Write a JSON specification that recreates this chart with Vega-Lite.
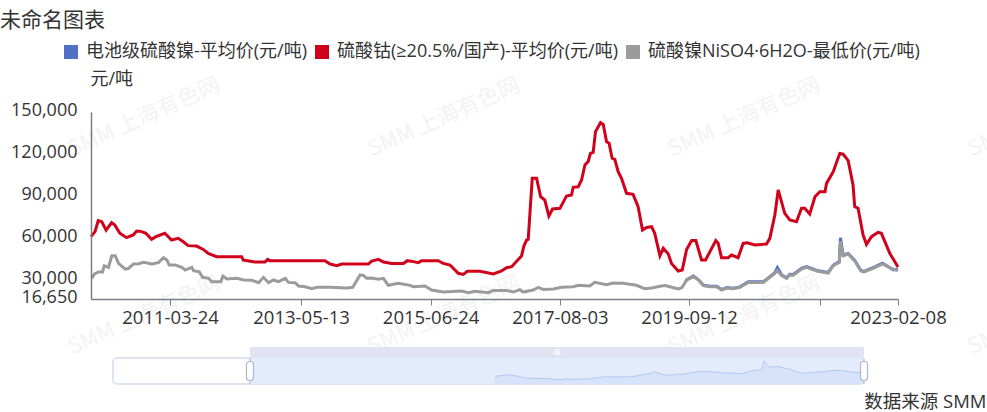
{
  "$schema": "https://vega.github.io/schema/vega-lite/v6.json",
  "width": 987,
  "height": 412,
  "autosize": {"type": "fit", "contains": "padding"},
  "padding": 0,
  "background": "white",
  "title": {"text": "未命名图表", "anchor": "start", "frame": "group", "offset": -31, "fontSize": 21, "fontWeight": "normal", "color": "#333", "font": "Open Sans, Noto Sans CJK SC"},
  "config": {"view": {"stroke": null}, "font": "Open Sans, Noto Sans CJK SC"},
  "datasets": {
    "cobalt": [
      {"date":"2009-12-08","value":61100},{"date":"2010-01-01","value":64700},{"date":"2010-01-20","value":72500},{"date":"2010-02-10","value":71800},{"date":"2010-03-08","value":65800},{"date":"2010-04-10","value":71100},{"date":"2010-04-29","value":69400},{"date":"2010-05-29","value":63500},{"date":"2010-07-08","value":60400},{"date":"2010-08-17","value":62300},{"date":"2010-09-06","value":65100},{"date":"2010-10-06","value":64700},{"date":"2010-10-31","value":63500},{"date":"2010-12-04","value":59200},{"date":"2010-12-30","value":61100},{"date":"2011-02-21","value":63500},{"date":"2011-04-02","value":58700},{"date":"2011-05-12","value":59900},{"date":"2011-06-11","value":57500},{"date":"2011-07-10","value":54700},{"date":"2011-08-29","value":54400},{"date":"2011-10-08","value":52000},{"date":"2011-11-07","value":49200},{"date":"2011-12-27","value":46800},{"date":"2012-05-24","value":46800},{"date":"2012-06-03","value":44400},{"date":"2012-08-11","value":43000},{"date":"2012-10-10","value":43000},{"date":"2012-10-26","value":44900},{"date":"2012-11-09","value":44000},{"date":"2013-10-02","value":44000},{"date":"2013-11-02","value":41600},{"date":"2013-12-12","value":40400},{"date":"2014-01-10","value":41600},{"date":"2014-06-18","value":41600},{"date":"2014-07-08","value":43700},{"date":"2014-08-17","value":44900},{"date":"2014-09-16","value":43000},{"date":"2014-11-04","value":42000},{"date":"2015-01-13","value":42000},{"date":"2015-02-06","value":44000},{"date":"2015-03-13","value":43300},{"date":"2015-04-12","value":42600},{"date":"2015-05-02","value":44000},{"date":"2015-08-09","value":44000},{"date":"2015-09-08","value":42000},{"date":"2015-10-18","value":40900},{"date":"2015-12-06","value":35000},{"date":"2016-01-05","value":34200},{"date":"2016-01-29","value":36400},{"date":"2016-04-13","value":36400},{"date":"2016-07-02","value":34500},{"date":"2016-08-20","value":36600},{"date":"2016-09-19","value":39000},{"date":"2016-10-19","value":39700},{"date":"2016-12-17","value":47300},{"date":"2016-12-31","value":54400},{"date":"2017-01-16","value":58700},{"date":"2017-01-26","value":59200},{"date":"2017-02-19","value":102700},{"date":"2017-03-17","value":102700},{"date":"2017-04-10","value":89600},{"date":"2017-05-05","value":87200},{"date":"2017-05-29","value":75800},{"date":"2017-06-20","value":80800},{"date":"2017-08-03","value":81300},{"date":"2017-09-11","value":90100},{"date":"2017-10-11","value":90800},{"date":"2017-10-21","value":96300},{"date":"2017-11-20","value":96700},{"date":"2017-12-10","value":101500},{"date":"2017-12-30","value":112200},{"date":"2018-01-18","value":114600},{"date":"2018-02-01","value":120500},{"date":"2018-02-17","value":121200},{"date":"2018-03-03","value":136000},{"date":"2018-04-02","value":142400},{"date":"2018-04-18","value":141200},{"date":"2018-05-08","value":128800},{"date":"2018-05-23","value":127700},{"date":"2018-06-10","value":117000},{"date":"2018-06-26","value":116200},{"date":"2018-07-16","value":107400},{"date":"2018-08-05","value":102700},{"date":"2018-09-04","value":92000},{"date":"2018-10-13","value":91300},{"date":"2018-11-12","value":82500},{"date":"2018-12-08","value":65800},{"date":"2019-01-01","value":67700},{"date":"2019-01-31","value":68200},{"date":"2019-02-19","value":63500},{"date":"2019-03-22","value":47500},{"date":"2019-04-11","value":52800},{"date":"2019-05-11","value":48700},{"date":"2019-05-30","value":42000},{"date":"2019-07-09","value":36600},{"date":"2019-08-02","value":37300},{"date":"2019-08-28","value":52000},{"date":"2019-09-27","value":58300},{"date":"2019-10-22","value":58300},{"date":"2019-11-25","value":44500},{"date":"2019-12-19","value":44500},{"date":"2020-02-18","value":58300},{"date":"2020-03-03","value":56400},{"date":"2020-03-23","value":46100},{"date":"2020-05-02","value":46100},{"date":"2020-05-22","value":48000},{"date":"2020-06-30","value":46100},{"date":"2020-07-30","value":56300},{"date":"2020-08-23","value":56800},{"date":"2020-10-08","value":55200},{"date":"2020-12-16","value":55900},{"date":"2021-01-05","value":59900},{"date":"2021-02-04","value":76500},{"date":"2021-02-24","value":94400},{"date":"2021-04-04","value":77700},{"date":"2021-05-04","value":73000},{"date":"2021-06-13","value":71800},{"date":"2021-07-13","value":81300},{"date":"2021-08-01","value":81300},{"date":"2021-08-31","value":77300},{"date":"2021-10-01","value":89600},{"date":"2021-10-30","value":93200},{"date":"2021-11-30","value":93200},{"date":"2021-12-09","value":99100},{"date":"2022-01-18","value":107400},{"date":"2022-02-26","value":120500},{"date":"2022-03-18","value":120000},{"date":"2022-04-17","value":115300},{"date":"2022-05-16","value":97900},{"date":"2022-05-26","value":82500},{"date":"2022-06-15","value":81300},{"date":"2022-07-15","value":62300},{"date":"2022-08-04","value":55600},{"date":"2022-09-03","value":61100},{"date":"2022-10-12","value":64200},{"date":"2022-11-01","value":63500},{"date":"2022-12-21","value":49200},{"date":"2023-02-08","value":39500}
    ],
    "nickel_low": [
      {"date":"2009-12-13","value":31400},{"date":"2009-12-29","value":34500},{"date":"2010-01-22","value":35900},{"date":"2010-02-15","value":35900},{"date":"2010-02-25","value":40400},{"date":"2010-03-22","value":39200},{"date":"2010-04-11","value":47500},{"date":"2010-05-01","value":47500},{"date":"2010-05-21","value":42000},{"date":"2010-06-30","value":38000},{"date":"2010-07-20","value":38500},{"date":"2010-08-18","value":41600},{"date":"2010-09-17","value":41800},{"date":"2010-10-17","value":42800},{"date":"2010-12-06","value":41600},{"date":"2011-01-14","value":42600},{"date":"2011-02-13","value":46100},{"date":"2011-03-05","value":44500},{"date":"2011-03-19","value":40900},{"date":"2011-04-24","value":40900},{"date":"2011-06-03","value":39200},{"date":"2011-06-22","value":37300},{"date":"2011-08-01","value":39200},{"date":"2011-08-11","value":36900},{"date":"2011-09-14","value":36100},{"date":"2011-10-04","value":32100},{"date":"2011-11-09","value":31400},{"date":"2011-11-28","value":29000},{"date":"2012-01-21","value":29000},{"date":"2012-02-02","value":33000},{"date":"2012-02-26","value":30900},{"date":"2012-04-25","value":31400},{"date":"2012-06-04","value":30200},{"date":"2012-07-24","value":30000},{"date":"2012-09-02","value":28300},{"date":"2012-10-01","value":32100},{"date":"2012-10-31","value":28300},{"date":"2012-11-30","value":30200},{"date":"2012-12-30","value":29000},{"date":"2013-02-08","value":31400},{"date":"2013-02-27","value":28500},{"date":"2013-04-08","value":28300},{"date":"2013-04-28","value":25900},{"date":"2013-06-07","value":25400},{"date":"2013-07-16","value":24000},{"date":"2013-08-15","value":25000},{"date":"2013-11-03","value":25000},{"date":"2014-02-09","value":24500},{"date":"2014-03-17","value":25000},{"date":"2014-04-30","value":33800},{"date":"2014-05-20","value":33500},{"date":"2014-06-08","value":31400},{"date":"2014-07-08","value":31600},{"date":"2014-08-17","value":30700},{"date":"2014-09-16","value":31400},{"date":"2014-10-15","value":26400},{"date":"2014-12-14","value":27800},{"date":"2015-02-21","value":26400},{"date":"2015-03-13","value":25400},{"date":"2015-05-22","value":25900},{"date":"2015-06-30","value":23100},{"date":"2015-09-08","value":21600},{"date":"2015-12-26","value":22400},{"date":"2016-02-04","value":21200},{"date":"2016-03-14","value":22100},{"date":"2016-06-02","value":21200},{"date":"2016-07-02","value":22800},{"date":"2016-09-19","value":22800},{"date":"2016-10-29","value":21600},{"date":"2016-12-07","value":23300},{"date":"2016-12-27","value":21600},{"date":"2017-02-25","value":23100},{"date":"2017-03-27","value":25000},{"date":"2017-04-25","value":23500},{"date":"2017-06-24","value":23800},{"date":"2017-08-13","value":25000},{"date":"2017-10-21","value":25400},{"date":"2017-11-20","value":26400},{"date":"2018-01-28","value":25900},{"date":"2018-02-27","value":28500},{"date":"2018-05-08","value":26900},{"date":"2018-06-16","value":28000},{"date":"2018-08-15","value":27800},{"date":"2018-11-02","value":26400},{"date":"2018-12-22","value":24000},{"date":"2019-01-31","value":24500},{"date":"2019-03-22","value":25700},{"date":"2019-04-22","value":26200},{"date":"2019-05-31","value":25000},{"date":"2019-07-10","value":23800},{"date":"2019-07-30","value":24700},{"date":"2019-08-29","value":30200},{"date":"2019-10-08","value":32600},{"date":"2019-11-06","value":30200},{"date":"2019-12-06","value":26200},{"date":"2020-01-15","value":25400},{"date":"2020-02-23","value":25400},{"date":"2020-03-24","value":23100},{"date":"2020-04-23","value":24500},{"date":"2020-06-02","value":24000},{"date":"2020-07-11","value":25000},{"date":"2020-08-30","value":28500},{"date":"2020-11-27","value":28500},{"date":"2020-12-16","value":30200},{"date":"2021-02-04","value":34900},{"date":"2021-02-19","value":37000},{"date":"2021-03-17","value":33300},{"date":"2021-04-15","value":31400},{"date":"2021-05-04","value":33800},{"date":"2021-05-25","value":33600},{"date":"2021-07-13","value":38000},{"date":"2021-08-12","value":39200},{"date":"2021-10-11","value":36600},{"date":"2021-12-19","value":35200},{"date":"2022-01-18","value":40400},{"date":"2022-02-23","value":42800},{"date":"2022-03-02","value":57900},{"date":"2022-03-18","value":47500},{"date":"2022-04-17","value":48700},{"date":"2022-05-26","value":43700},{"date":"2022-07-02","value":36600},{"date":"2022-07-20","value":35900},{"date":"2022-09-13","value":38500},{"date":"2022-11-08","value":41600},{"date":"2023-01-11","value":37800},{"date":"2023-02-08","value":37000}
    ],
    "nickel_battery": [
      {"date":"2019-08-22","value":29000},{"date":"2019-08-29","value":30500},{"date":"2019-10-08","value":33000},{"date":"2019-11-06","value":30500},{"date":"2019-12-06","value":26500},{"date":"2020-01-15","value":25700},{"date":"2020-02-23","value":25700},{"date":"2020-03-24","value":23400},{"date":"2020-04-23","value":24800},{"date":"2020-06-02","value":24300},{"date":"2020-07-11","value":25300},{"date":"2020-08-30","value":28900},{"date":"2020-11-27","value":28900},{"date":"2020-12-16","value":30600},{"date":"2021-02-04","value":35500},{"date":"2021-02-19","value":39000},{"date":"2021-03-17","value":33700},{"date":"2021-04-15","value":31800},{"date":"2021-05-04","value":34300},{"date":"2021-05-25","value":34100},{"date":"2021-07-13","value":38500},{"date":"2021-08-12","value":39800},{"date":"2021-10-11","value":37000},{"date":"2021-12-19","value":35600},{"date":"2022-01-18","value":40800},{"date":"2022-02-23","value":43300},{"date":"2022-03-02","value":60300},{"date":"2022-03-18","value":48000},{"date":"2022-04-17","value":49200},{"date":"2022-05-26","value":44200},{"date":"2022-07-02","value":37000},{"date":"2022-07-20","value":36300},{"date":"2022-09-13","value":39000},{"date":"2022-11-08","value":42100},{"date":"2023-01-11","value":37400},{"date":"2023-02-08","value":38000}
    ],
    "slider": [
      {"start":"2016-01-19","end":"2023-02-08","windowStart":"2017-05-03","mid":"2020-03-22","low":15000,"high":66000,"top":87500,"handle":40500,"grip":76750,"gripLabel":"III"}
    ],
    "watermark": [
      {"date":"2010-10-19","value":146400,"label":"SMM 上海有色网"},
      {"date":"2015-09-11","value":146400,"label":"SMM 上海有色网"},
      {"date":"2020-08-04","value":146400,"label":"SMM 上海有色网"},
      {"date":"2025-06-26","value":146400,"label":"SMM 上海有色网"},
      {"date":"2010-10-19","value":5200,"label":"SMM 上海有色网"},
      {"date":"2015-09-11","value":5200,"label":"SMM 上海有色网"},
      {"date":"2020-08-04","value":5200,"label":"SMM 上海有色网"},
      {"date":"2025-06-26","value":5200,"label":"SMM 上海有色网"}
    ]
  },
  "layer": [
    {
      "layer": [
        {
          "data": {"name": "watermark"},
          "mark": {"type": "text", "clip": true, "angle": -24, "fontSize": 22, "color": "#f3f3f3", "font": "Noto Sans CJK SC"},
          "encoding": {
            "x": {"field": "date", "type": "temporal"},
            "y": {"field": "value", "type": "quantitative"},
            "text": {"field": "label"}
          }
        },
        {
          "data": {"name": "nickel_battery"},
          "mark": {"type": "line", "strokeWidth": 3},
          "encoding": {
            "x": {
              "field": "date", "type": "temporal", "title": "数据来源 SMM",
              "scale": {"type": "utc", "domain": ["2009-12-08", "2023-02-08"], "range": [91, 898]},
              "axis": {
                "orient": "bottom", "offset": -113, "grid": false, "zindex": 1,
                "values": ["2011-03-24", "2013-05-13", "2015-06-24", "2017-08-03", "2019-09-12", "2021-10-30", "2023-02-08"],
                "labelExpr": "utcyear(datum.value) == 2021 ? '' : utcFormat(datum.value, '%Y-%m-%d')",
                "labelOverlap": false, "labelFlush": false, "labelFontSize": 18.5, "labelColor": "#333", "labelPadding": 3, "labelBound": false,
                "domainColor": "#7a7d85", "domainWidth": 1.5, "tickColor": "#7a7d85", "tickWidth": 1, "tickSize": 6,
                "titleX": 986, "titleY": 102, "titleAlign": "right", "titleBaseline": "middle", "titleFontSize": 18.5, "titleFontWeight": "normal", "titleColor": "#333"
              }
            },
            "y": {
              "field": "value", "type": "quantitative", "title": "元/吨",
              "scale": {"domain": [16650, 150000], "range": [299, 112], "zero": false, "nice": false},
              "axis": {
                "orient": "left", "offset": -91, "grid": false, "zindex": 1,
                "values": [16650, 30000, 60000, 90000, 120000, 150000],
                "labelExpr": "format(datum.value, ',')",
                "labelOverlap": false, "labelFontSize": 18, "labelColor": "#333", "labelPadding": 14, "labelOffset": -2, "labelBound": false, "labelFlush": false,
                "ticks": false, "domainColor": "#7a7d85", "domainWidth": 1.5,
                "titleAngle": 0, "titleX": -1, "titleY": 79, "titleAlign": "left", "titleBaseline": "middle", "titleFontSize": 18, "titleFontWeight": "normal", "titleColor": "#333"
              }
            },
            "color": {
              "datum": "电池级硫酸镍-平均价(元/吨)",
              "scale": {
                "domain": ["电池级硫酸镍-平均价(元/吨)", "硫酸钴(≥20.5%/国产)-平均价(元/吨)", "硫酸镍NiSO4·6H2O-最低价(元/吨)"],
                "range": ["#5470c6", "#d0021b", "#9b9b9b"]
              },
              "legend": {
                "title": null, "orient": "none", "legendX": 57, "legendY": 38, "direction": "horizontal", "columns": 3,
                "symbolType": "stroke", "symbolSize": 196, "symbolStrokeWidth": 14, "symbolOpacity": 1,
                "labelFontSize": 18, "labelColor": "#333", "labelLimit": 400, "columnPadding": -23, "labelOffset": 1
              }
            }
          }
        },
        {
          "data": {"name": "cobalt"},
          "mark": {"type": "line", "strokeWidth": 3},
          "encoding": {
            "x": {"field": "date", "type": "temporal"},
            "y": {"field": "value", "type": "quantitative"},
            "color": {"datum": "硫酸钴(≥20.5%/国产)-平均价(元/吨)"}
          }
        },
        {
          "data": {"name": "nickel_low"},
          "mark": {"type": "line", "strokeWidth": 3},
          "encoding": {
            "x": {"field": "date", "type": "temporal"},
            "y": {"field": "value", "type": "quantitative"},
            "color": {"datum": "硫酸镍NiSO4·6H2O-最低价(元/吨)"}
          }
        }
      ]
    },
    {
      "layer": [
        {
          "data": {"name": "slider"},
          "mark": {"type": "rect", "fill": "white", "stroke": "#d2dbee", "strokeWidth": 1.5, "cornerRadius": 4},
          "encoding": {
            "x": {
              "field": "start", "type": "temporal", "axis": null,
              "scale": {"type": "utc", "domain": ["2016-01-19", "2023-02-08"], "range": [113, 864]}
            },
            "x2": {"field": "end"},
            "y": {
              "field": "low", "type": "quantitative", "axis": null,
              "scale": {"domain": [15000, 66000], "range": [384, 358], "zero": false, "nice": false}
            },
            "y2": {"field": "high"}
          }
        },
        {
          "data": {"name": "slider"},
          "mark": {"type": "rect", "fill": "#e4ebfc"},
          "encoding": {
            "x": {"field": "windowStart", "type": "temporal", "axis": null},
            "x2": {"field": "end"},
            "y": {"field": "low", "type": "quantitative", "axis": null},
            "y2": {"field": "high"}
          }
        },
        {
          "data": {"name": "nickel_battery"},
          "mark": {"type": "area", "fill": "#d2dffa", "line": {"stroke": "#b4c8f2", "strokeWidth": 1}},
          "encoding": {
            "x": {"field": "date", "type": "temporal", "axis": null},
            "y": {"field": "value", "type": "quantitative", "axis": null},
            "y2": {"datum": 15000}
          }
        },
        {
          "data": {"name": "slider"},
          "mark": {"type": "rect", "fill": "#e0e4f2", "cornerRadius": 2},
          "encoding": {
            "x": {"field": "windowStart", "type": "temporal", "axis": null},
            "x2": {"field": "end"},
            "y": {"field": "high", "type": "quantitative", "axis": null},
            "y2": {"field": "top"}
          }
        },
        {
          "data": {"name": "slider"},
          "mark": {"type": "rule", "stroke": "#acb8d1", "strokeWidth": 1},
          "encoding": {
            "x": {"field": "windowStart", "type": "temporal", "axis": null},
            "y": {"field": "low", "type": "quantitative", "axis": null},
            "y2": {"field": "high"}
          }
        },
        {
          "data": {"name": "slider"},
          "mark": {"type": "rule", "stroke": "#acb8d1", "strokeWidth": 1},
          "encoding": {
            "x": {"field": "end", "type": "temporal", "axis": null},
            "y": {"field": "low", "type": "quantitative", "axis": null},
            "y2": {"field": "high"}
          }
        },
        {
          "data": {"name": "slider"},
          "mark": {"type": "rect", "width": 7, "height": 19, "cornerRadius": 3, "fill": "white", "stroke": "#acb8d1", "strokeWidth": 1.2},
          "encoding": {
            "x": {"field": "windowStart", "type": "temporal", "axis": null},
            "y": {"field": "handle", "type": "quantitative", "axis": null}
          }
        },
        {
          "data": {"name": "slider"},
          "mark": {"type": "rect", "width": 7, "height": 19, "cornerRadius": 3, "fill": "white", "stroke": "#acb8d1", "strokeWidth": 1.2},
          "encoding": {
            "x": {"field": "end", "type": "temporal", "axis": null},
            "y": {"field": "handle", "type": "quantitative", "axis": null}
          }
        },
        {
          "data": {"name": "slider"},
          "mark": {"type": "text", "fontSize": 7, "fontWeight": "bold", "color": "white", "font": "Noto Sans CJK SC"},
          "encoding": {
            "x": {"field": "mid", "type": "temporal", "axis": null},
            "y": {"field": "grip", "type": "quantitative", "axis": null},
            "text": {"field": "gripLabel"}
          }
        }
      ]
    }
  ],
  "resolve": {"scale": {"x": "independent", "y": "independent"}, "axis": {"x": "independent", "y": "independent"}}
}
